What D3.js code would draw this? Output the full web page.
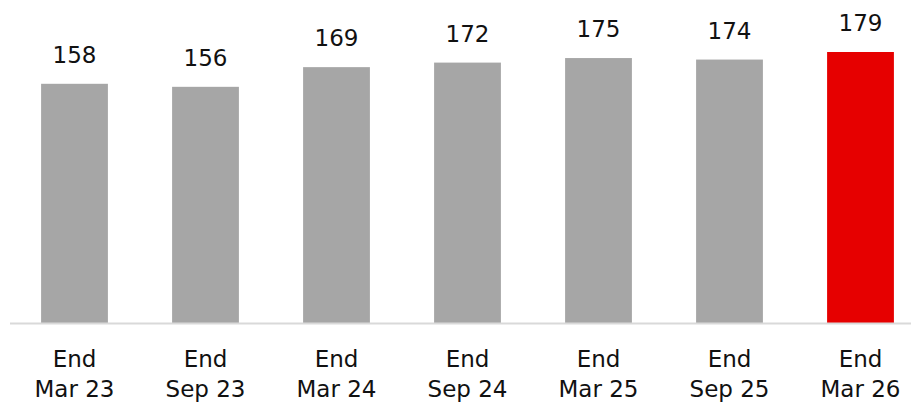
<!DOCTYPE html>
<html>
<head>
<meta charset="utf-8">
<script src="https://cdn.jsdelivr.net/npm/d3@7"></script>
<style>
  body { margin: 0; background: #fff; }
  text { font-family: Verdana, "DejaVu Sans", sans-serif; fill: #111; }
</style>
</head>
<body>
<div id="chart"></div>
<script>
const WIDTH = 911, HEIGHT = 402;

const lineOne = ["End", "End", "End", "End", "End", "End", "End"];
const lineTwo = ["Mar 23", "Sep 23", "Mar 24", "Sep 24", "Mar 25", "Sep 25", "Mar 26"];
const values = [158, 156, 169, 172, 175, 174, 179];
const highlight = [false, false, false, false, false, false, true];

const BASE = 323;

const svg = d3.select("#chart").append("svg")
  .attr("width", WIDTH)
  .attr("height", HEIGHT);

const x = d3.scaleBand()
  .domain(lineTwo)
  .range([9, 926])
  .paddingInner(0.49)
  .paddingOuter(0.245);

const y = d3.scaleLinear()
  .domain([0, 179])
  .range([BASE, 52]);

// bars
svg.selectAll("rect.bar")
  .data(values)
  .enter()
  .append("rect")
  .attr("class", "bar")
  .attr("x", (d, i) => x(lineTwo[i]))
  .attr("y", d => y(d))
  .attr("width", x.bandwidth())
  .attr("height", d => BASE - y(d))
  .attr("fill", (d, i) => highlight[i] ? "#e60000" : "#a6a6a6");

// baseline
svg.append("line")
  .attr("x1", 10).attr("x2", WIDTH)
  .attr("y1", BASE + 0.5).attr("y2", BASE + 0.5)
  .attr("stroke", "#d9d9d9")
  .attr("stroke-width", 2);

// value labels
svg.selectAll("text.val")
  .data(values)
  .enter()
  .append("text")
  .attr("class", "val")
  .attr("x", (d, i) => x(lineTwo[i]) + x.bandwidth() / 2)
  .attr("y", d => y(d) - 21)
  .attr("text-anchor", "middle")
  .style("font-size", "23px")
  .text(d => d);

// category labels
const cat = svg.selectAll("text.cat")
  .data(lineTwo)
  .enter()
  .append("text")
  .attr("class", "cat")
  .attr("text-anchor", "middle")
  .style("font-size", "23px");

cat.append("tspan")
  .attr("x", d => x(d) + x.bandwidth() / 2)
  .attr("y", 367)
  .text((d, i) => lineOne[i]);

cat.append("tspan")
  .attr("x", d => x(d) + x.bandwidth() / 2)
  .attr("y", 396.5)
  .text(d => d);
</script>
</body>
</html>
